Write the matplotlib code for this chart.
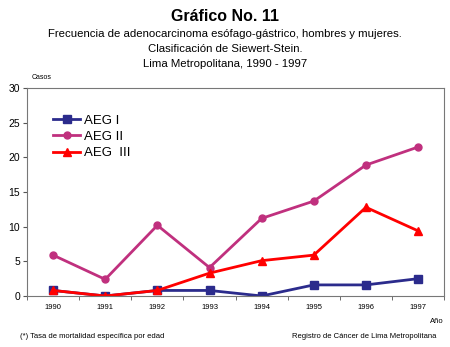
import matplotlib.pyplot as plt
import numpy as np

# Data
years = ['1990', '1991', '1992', '1993', '1994', '1995', '1996', '1997']
aeg1 = [0.8, 0.0, 0.8, 0.8, 0.0, 1.6, 1.6, 2.5]
aeg2 = [5.9, 2.4, 10.2, 4.1, 11.2, 13.7, 18.9, 21.5]
aeg3 = [0.8, 0.0, 0.8, 3.3, 5.1, 5.9, 12.8, 9.4]

plt.rcParams['font.family'] = ['Liberation Sans', 'DejaVu Sans']

fig = plt.figure(figsize=(4.5, 3.47), dpi=100)
ax = fig.add_axes([0.06, 0.147, 0.927, 0.599])

x = np.arange(len(years))
ax.plot(x, aeg1, color='#2b2b8c', marker='s', markersize=6, lw=2, label='AEG I')
ax.plot(x, aeg2, color='#c0307e', marker='o', markersize=5, lw=2, label='AEG II')
ax.plot(x, aeg3, color='#ff0000', marker='^', markersize=6, lw=2, label='AEG  III')

ax.set_xlim(-0.5, len(years) - 0.5)
ax.set_ylim(0, 30)
ax.set_yticks(range(0, 31, 5))
ax.set_xticks(x)
ax.set_xticklabels(years, fontsize=5.5)
ax.tick_params(axis='x', which='major', length=0, pad=6)
ax.set_xticks(np.arange(-0.5, len(years)), minor=True)
ax.tick_params(axis='x', which='minor', length=3, color='#555555')
ax.tick_params(axis='y', labelsize=7.5, length=3, color='#555555', pad=2)
for s in ax.spines.values():
    s.set_color('#777777')
    s.set_linewidth(0.8)

ax.legend(loc='upper left', bbox_to_anchor=(0.035, 0.93), frameon=False,
          fontsize=9.5, handlelength=2.0, handletextpad=0.3, labelspacing=0.3)

fig.text(0.5, 0.94, 'Gráfico No. 11', ha='center', fontsize=11.5, fontweight='bold',
         family=['Liberation Sans Narrow', 'Liberation Sans'])
fig.text(0.5, 0.902, 'Frecuencia de adenocarcinoma esófago-gástrico, hombres y mujeres.',
         ha='center', va='center', fontsize=8.2)
fig.text(0.5, 0.858, 'Clasificación de Siewert-Stein.', ha='center', va='center', fontsize=8.2)
fig.text(0.5, 0.815, 'Lima Metropolitana, 1990 - 1997', ha='center', va='center', fontsize=8.2)
fig.text(0.07, 0.772, 'Casos', fontsize=5)
fig.text(0.985, 0.068, 'Año', ha='right', fontsize=5.5)
fig.text(0.045, 0.025, '(*) Tasa de mortalidad específica por edad', fontsize=5.5)
fig.text(0.97, 0.025, 'Registro de Cáncer de Lima Metropolitana', ha='right', fontsize=5.5)

fig.savefig('out.png', dpi=100)
